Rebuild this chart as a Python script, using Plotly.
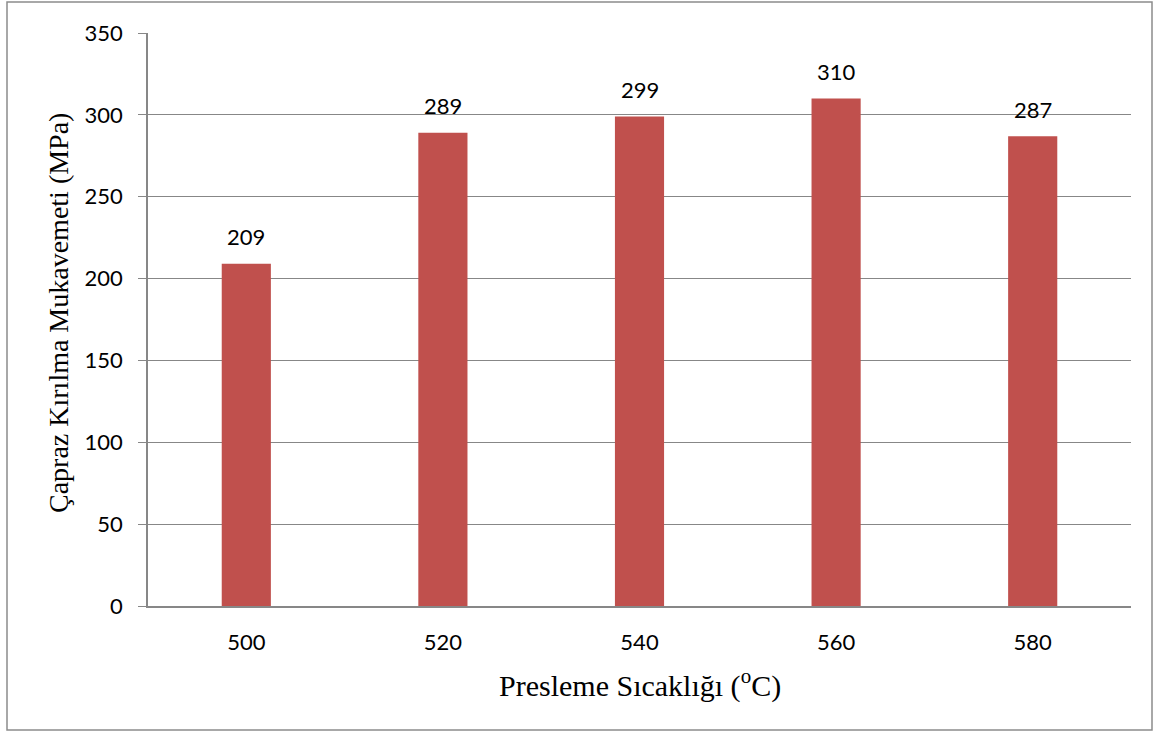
import plotly.graph_objects as go

categories = [500, 520, 540, 560, 580]
values = [209, 289, 299, 310, 287]
y_ticks = [0, 50, 100, 150, 200, 250, 300, 350]
x_title = "Presleme Sıcaklığı (<sup>o</sup>C)"
y_title = "Çapraz Kırılma Mukavemeti (MPa)"

bar_color = "#C0504D"
grid_color = "#878787"
tick_font = dict(family="Lato, Carlito, sans-serif", size=22, color="#000000")

fig = go.Figure()
fig.add_trace(go.Bar(
    x=categories, y=values, marker=dict(color=bar_color, line=dict(width=0)),
    width=5, showlegend=False,
))

for c, v in zip(categories, values):
    fig.add_annotation(x=c, y=v, text=str(v), showarrow=False, yshift=27,
                       yanchor="middle", font=tick_font)

L, R, T, B = 148, 23, 33, 125
W, H = 1154, 731
pw, ph = W - L - R, H - T - B

def px(xpix):
    return (xpix - L) / pw

def py(ypix):
    return ((H - B) - ypix) / ph

# chart border
fig.add_shape(type="rect", xref="paper", yref="paper",
              x0=px(7), x1=px(1152), y0=py(730), y1=py(2),
              line=dict(color="#8C8C8C", width=1.5), fillcolor="rgba(0,0,0,0)", layer="below")

# axis titles
fig.add_annotation(xref="paper", yref="paper", x=px(640), y=py(683),
                   xanchor="center", yanchor="middle", showarrow=False, text=x_title,
                   font=dict(family="Liberation Serif, Times New Roman, serif", size=30, color="#000000"))
fig.add_annotation(xref="paper", yref="paper", x=px(58), y=py(313),
                   xanchor="center", yanchor="middle", showarrow=False, text=y_title,
                   textangle=-90,
                   font=dict(family="Liberation Serif, Times New Roman, serif", size=28, color="#000000"))

fig.update_layout(
    width=W, height=H,
    margin=dict(l=L, r=R, t=T, b=B, pad=0),
    plot_bgcolor="white", paper_bgcolor="white",
    font=tick_font,
    xaxis=dict(
        range=[490, 590], tickvals=categories, ticktext=[str(c) for c in categories],
        showgrid=False, showline=True, linecolor=grid_color, linewidth=1.5,
        ticks="outside", ticklen=16, tickcolor="rgba(0,0,0,0)", zeroline=False,
        tickfont=tick_font,
    ),
    yaxis=dict(
        range=[0, 350], tickvals=y_ticks, showgrid=True, gridcolor=grid_color, gridwidth=1.3,
        showline=True, linecolor=grid_color, linewidth=1.5,
        ticks="outside", ticklen=8, tickcolor=grid_color, tickwidth=1.3, zeroline=False,
        ticklabelstandoff=11,
        tickfont=tick_font,
    ),
)

fig.write_html("out.html", config={"displayModeBar": False},
               post_script="document.body.style.margin='0';")
